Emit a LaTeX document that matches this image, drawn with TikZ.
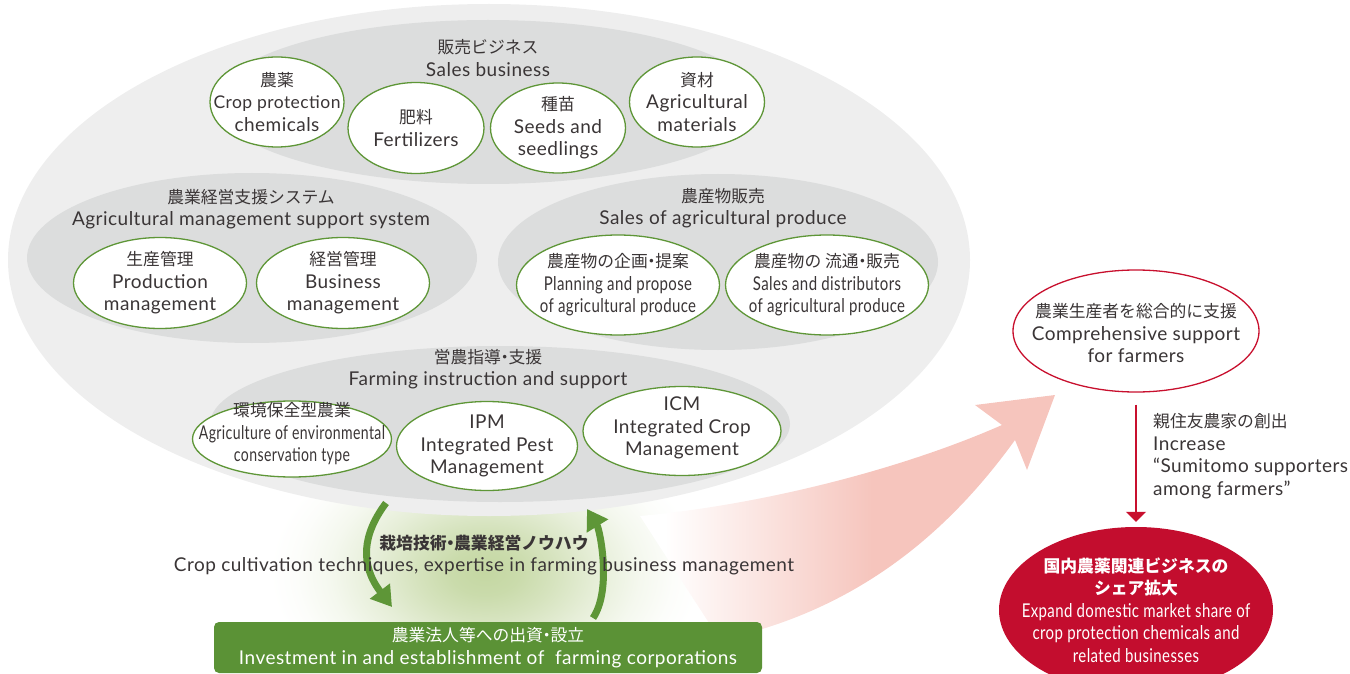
\documentclass[tikz,border=0pt]{standalone}
\usepackage{fontspec}
\setmainfont{Lato}[LetterSpace=2.5]
\newfontfamily\jpfont{Noto Sans CJK JP}
\newfontfamily\condfont{Lato}[FakeStretch=0.79,LetterSpace=2]
\newfontfamily\condfontB{Lato}[FakeStretch=0.74,LetterSpace=2]
\usetikzlibrary{shapes.geometric,arrows.meta}
\definecolor{lgray}{HTML}{EEEEEE}
\definecolor{mgray}{HTML}{DCDDDD}
\definecolor{gline}{HTML}{5E9637}
\definecolor{gfill}{HTML}{5B9236}
\definecolor{txt}{HTML}{3A3536}
\definecolor{rline}{HTML}{C8102E}
\definecolor{rfill}{HTML}{C30D2E}
\definecolor{pinkA}{HTML}{F6C5BD}
\definecolor{glowc}{HTML}{C4D7A2}
\newcommand\jp[1]{{\jpfont\fontsize{16.8}{22.5}\selectfont #1}}
\newcommand\dt{\makebox[0.45em][c]{・}}
\newcommand\cnd[1]{{\condfont #1}}
\newcommand\cndB[1]{{\condfontB #1}}
\pgfdeclarehorizontalshading{redfade}{100bp}{color(0bp)=(white); color(28bp)=(white); color(53bp)=(pinkA); color(100bp)=(pinkA)}
\pgfdeclareradialshading{glowshade}{\pgfpoint{0bp}{0bp}}{color(0bp)=(glowc); color(4bp)=(glowc!90!white); color(8bp)=(glowc!70!white); color(13bp)=(glowc!42!white); color(18bp)=(glowc!18!white); color(22bp)=(glowc!5!white); color(25bp)=(white); color(50bp)=(white)}
\tikzset{
  every node/.style={text=txt, font=\fontsize{19}{22.5}\selectfont, align=center, inner sep=0pt},
  gell/.style={ellipse, draw=gline, line width=1.3pt, fill=white},
  garrow/.style={draw=gline, line width=7pt, -{Triangle[width=24pt,length=20pt]}},
}
\begin{document}
\begin{tikzpicture}[x=1pt,y=-1pt]
\useasboundingbox (0,0) rectangle (1350,674);
\clip (0,0) rectangle (1350,674);
% glow
\shade[shading=glowshade] (485,572) ellipse [x radius=215pt, y radius=145pt];
% pink big arrow
\shade[shading=redfade] (640,516) .. controls (760,505) and (900,470) .. (1002,425)
  -- (975,405) -- (1055,395) -- (1027,470) -- (1015,440)
  .. controls (950,530) and (860,610) .. (720,640) -- cycle;
% gray ellipses
\fill[lgray] (489,260) ellipse [x radius=481pt, y radius=256pt];
\fill[mgray] (488,102) ellipse [x radius=272pt, y radius=82pt];
\fill[mgray] (252,258) ellipse [x radius=225pt, y radius=85pt];
\fill[mgray] (718,262) ellipse [x radius=220pt, y radius=88pt];
\fill[mgray] (500,424) ellipse [x radius=290pt, y radius=78pt];
% titles
\node (salesT) at (488,58) {\jp{販売ビジネス}\\Sales business};
\node (agrT) at (251,209) {\jp{農業経営支援システム}\\Agricultural management support system};
\node (prodT) at (723,208) {\jp{農産物販売}\\Sales of agricultural produce};
\node (farmT) at (488,369) {\jp{営農指導\dt 支援}\\Farming instruction and support};
% sales items
\node[gell, minimum width=134pt, minimum height=90pt] (nouyaku) at (277,102) {};
\node (nouyakuT) at (nouyaku) {\jp{農薬}\\{\fontsize{17.5}{22.5}\selectfont Crop protection}\\chemicals};
\node[gell, minimum width=136pt, minimum height=91pt] (hiryo) at (416,128) {};
\node (hiryoT) at (hiryo) {\jp{肥料}\\Fertilizers};
\node[gell, minimum width=135pt, minimum height=90pt] (shubyo) at (558,128) {};
\node (shubyoT) at (shubyo) {\jp{種苗}\\Seeds and\\seedlings};
\node[gell, minimum width=135pt, minimum height=90pt] (shizai) at (697,102) {};
\node (shizaiT) at (shizai) {\jp{資材}\\Agricultural\\materials};
% management items
\node[gell, minimum width=173pt, minimum height=91pt] (seisan) at (160,283) {};
\node (seisanT) at (seisan) {\jp{生産管理}\\Production\\management};
\node[gell, minimum width=173pt, minimum height=91pt] (keiei) at (343,283) {};
\node (keieiT) at (keiei) {\jp{経営管理}\\Business\\management};
% produce items
\node[gell, minimum width=203pt, minimum height=100pt] (kikaku) at (618,285) {};
\node (kikakuT) at (kikaku) {\jp{農産物の企画\dt 提案}\\\cnd{Planning and propose}\\\cnd{of agricultural produce}};
\node[gell, minimum width=203pt, minimum height=100pt] (ryutsu) at (827,285) {};
\node (ryutsuT) at (ryutsu) {\jp{農産物の 流通\dt 販売}\\\cnd{Sales and distributors}\\\cnd{of agricultural produce}};
% farming items
\node[gell, minimum width=199pt, minimum height=76pt] (kankyo) at (292,439) {};
\node (kankyoT) at (292,434) {\jp{環境保全型農業}\\\cndB{Agriculture of environmental}\\\cndB{conservation type}};
\node[gell, minimum width=181pt, minimum height=89pt] (ipm) at (487,446) {};
\node (ipmT) at (ipm) {IPM\\Integrated Pest\\Management};
\node[gell, minimum width=198pt, minimum height=89pt] (icm) at (682,431) {};
\node (icmT) at (682,428) {ICM\\Integrated Crop\\Management};
% green arrows
\coordinate (gA1) at (386,503);
\coordinate (gA2) at (392,607);
\coordinate (gB1) at (593,618);
\coordinate (gB2) at (587,509);
\draw[garrow] (gA1) .. controls (362,535) and (360,565) .. (gA2);
\draw[garrow] (gB1) .. controls (612,590) and (600,530) .. (gB2);
% know-how label
\node (knowT) at (484,555) {\jp{\bfseries 栽培技術\dt 農業経営ノウハウ}\\Crop cultivation techniques, expertise in farming business management};
% green pill
\node[fill=gfill, rounded corners=5pt, minimum width=548pt, minimum height=51pt, text=white] (pill) at (488,647.5) {\jp{農業法人等への出資\dt 設立}\\Investment in and establishment of\ \ farming corporations};
% right side
\node[ellipse, draw=rline, line width=1.3pt, fill=white, minimum width=246pt, minimum height=122pt] (comp) at (1136,331) {};
\node (compT) at (1136,333) {\jp{農業生産者を総合的に支援}\\Comprehensive support\\for farmers};
\node[ellipse, fill=rfill, minimum width=274pt, minimum height=166pt] (share) at (1136,610) {};
\node[text=white] (shareT) at (share) {\jp{\bfseries 国内農薬関連ビジネスの}\\\jp{\bfseries シェア拡大}\\\cnd{Expand domestic market share of}\\\cnd{crop protection chemicals and}\\\cnd{related businesses}};
\draw[rline, line width=1.5pt, -{Triangle[width=20pt,length=10pt]}, shorten <=12pt, shorten >=5pt] (comp.south) -- (share.north);
\node[anchor=west, align=left] (incT) at (1153,456) {\jp{親住友農家の創出}\\Increase\\“Sumitomo supporters\\among farmers”};
\end{tikzpicture}
\end{document}
